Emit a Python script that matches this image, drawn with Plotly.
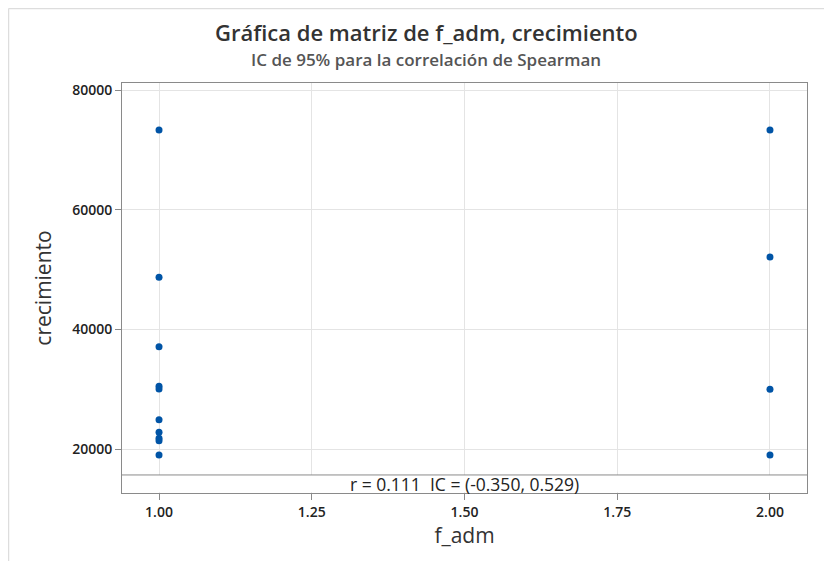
import plotly.graph_objects as go

f_adm = [1, 1, 1, 1, 1, 1, 1, 1, 1, 1, 2, 2, 2, 2]
crecimiento = [73300, 48700, 37100, 30500, 30050, 24900, 22800, 21800, 21400, 19000,
               73300, 52100, 30000, 19000]
x_ticks = [1.00, 1.25, 1.50, 1.75, 2.00]
y_ticks = [20000, 40000, 60000, 80000]
title = "Gráfica de matriz de f_adm, crecimiento"
subtitle = "IC de 95% para la correlación de Spearman"
stat_text = "r = 0.111  IC = (-0.350, 0.529)"

font_family = "Open Sans, Noto Sans, DejaVu Sans, sans-serif"

fig = go.Figure()
fig.add_trace(go.Scatter(
    x=f_adm, y=crecimiento, mode="markers",
    marker=dict(color="#0054A6", size=7),
    hoverinfo="x+y", showlegend=False,
))

band = 0.044

fig.update_layout(
    width=824, height=553,
    margin=dict(l=114, r=25, t=75, b=68),
    paper_bgcolor="white", plot_bgcolor="white",
    font=dict(family=font_family, color="#222"),
    xaxis=dict(
        range=[0.9394, 2.0606], tickvals=x_ticks, ticktext=[f"{v:.2f}" for v in x_ticks],
        showgrid=True, gridcolor="#e4e4e4", gridwidth=1,
        showline=True, linecolor="#8a8a8a", linewidth=1, mirror=True,
        ticks="outside", ticklen=6, tickcolor="#8a8a8a",
        tickfont=dict(size=14, color="#222", weight=600), zeroline=False,
        title=dict(text="f_adm", font=dict(size=21, color="#333"), standoff=6),
    ),
    yaxis=dict(
        range=[12660, 81170], tickvals=y_ticks, ticktext=[str(v) for v in y_ticks],
        showgrid=True, gridcolor="#e4e4e4", gridwidth=1,
        showline=True, linecolor="#8a8a8a", linewidth=1, mirror=True,
        ticks="outside", ticklen=6, tickcolor="#8a8a8a",
        tickfont=dict(size=14, color="#222", weight=600), zeroline=False,
        title=dict(text="crecimiento", font=dict(size=21, color="#333"), standoff=14),
    ),
    shapes=[
        dict(type="rect", xref="x domain", yref="y domain", x0=0.001, x1=0.999, y0=0.002, y1=band,
             fillcolor="white", line=dict(width=0), layer="above"),
        dict(type="line", xref="x domain", yref="y domain", x0=0, x1=1, y0=band, y1=band,
             line=dict(color="#8a8a8a", width=1), layer="above"),
        dict(type="line", xref="paper", yref="paper", x0=-0.1657, x1=-0.1657, y0=-0.2, y1=1.1817,
             line=dict(color="#dddddd", width=1.5)),
        dict(type="line", xref="paper", yref="paper", x0=-0.1657, x1=1.05, y0=1.1817, y1=1.1817,
             line=dict(color="#dddddd", width=1.5)),
    ],
    annotations=[
        dict(text=title, xref="paper", yref="paper", x=0.4438, y=1.1244, xanchor="center", yanchor="middle",
             showarrow=False, font=dict(size=22, color="#333", weight=600)),
        dict(text=subtitle, xref="paper", yref="paper", x=0.4438, y=1.0573, xanchor="center", yanchor="middle",
             showarrow=False, font=dict(size=17, color="#555", weight=600)),
        dict(text=stat_text, xref="paper", yref="paper", x=0.4993, y=band / 2, xanchor="center", yanchor="middle",
             showarrow=False, font=dict(size=17.5, color="#222")),
    ],
)

fig.write_html("out.html")
